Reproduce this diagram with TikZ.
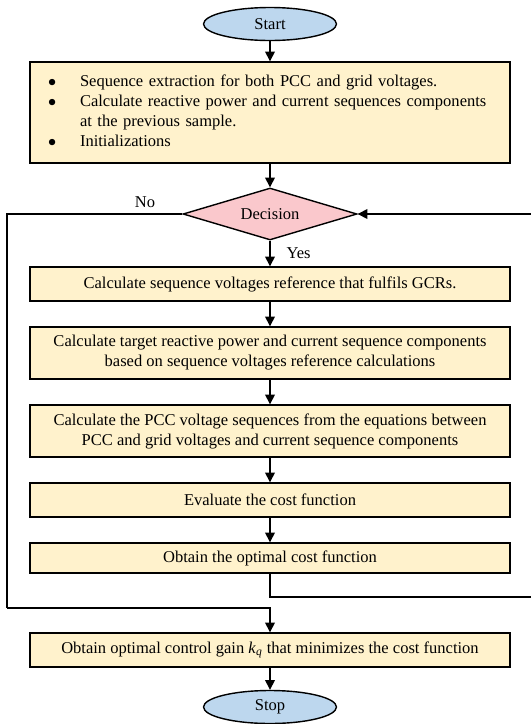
\documentclass[tikz,border=0pt]{standalone}
\usepackage{fontspec}
\setmainfont{Liberation Serif}
\usepackage{tikz}
\usetikzlibrary{arrows.meta, positioning, shapes.geometric}

\definecolor{boxfill}{RGB}{255,242,204}
\definecolor{endfill}{RGB}{189,215,238}
\definecolor{decfill}{RGB}{250,200,204}

\begin{document}
\begin{tikzpicture}[
  x=0.02cm, y=-0.02cm,
  every node/.style={font=\fontsize{9.4}{11.4}\selectfont},
  box/.style={draw, fill=boxfill, line width=0.8pt, align=center, inner sep=2pt, minimum width=9.6cm},
  term/.style={draw, ellipse, fill=endfill, line width=0.8pt, minimum width=2.66cm, minimum height=0.66cm, inner sep=0pt},
  dec/.style={draw, diamond, fill=decfill, line width=0.8pt, aspect=3.35, minimum width=3.48cm, minimum height=1.04cm, inner sep=0pt},
  arrow/.style={-{Triangle[length=5.5pt, width=5.5pt]}, line width=0.8pt},
  line/.style={line width=0.8pt},
  lab/.style={inner sep=1pt}
]
  \useasboundingbox (0,0) rectangle (531,724);

  \node[term] (start) at (270,24) {Start};
  \node[box, minimum height=2.02cm, align=left, inner xsep=0.36cm, text width=8.88cm] (n1) at (270,112.5)
    {\begin{tabular}{@{}p{0.64cm}@{}l@{}}
      $\bullet$ & Sequence extraction for both PCC and grid voltages.\\
      $\bullet$ & Calculate reactive power and current sequences components\\
                & at the previous sample.\\
      $\bullet$ & Initializations
     \end{tabular}};
  \node[dec] (dec) at (270,214) {Decision};
  \node[box, minimum height=0.68cm] (n2) at (270,284) {Calculate sequence voltages reference that fulfils GCRs.};
  \node[box, minimum height=1.04cm] (n3) at (270,353) {Calculate target reactive power and current sequence components\\ based on sequence voltages reference calculations};
  \node[box, minimum height=1.04cm] (n4) at (270,431) {Calculate the PCC voltage sequences from the equations between\\ PCC and grid voltages and current sequence components};
  \node[box, minimum height=0.68cm] (n5) at (270,500) {Evaluate the cost function};
  \node[box, minimum height=0.6cm] (n6) at (270,558) {Obtain the optimal cost function};
  \node[box, minimum height=0.68cm] (n7) at (270,650) {Obtain optimal control gain \textit{k}\textsubscript{\textit{q}} that minimizes the cost function};
  \node[term] (stop) at (270,707) {Stop};

  \coordinate (lpt) at (7,608);
  \coordinate (rpt) at (534,597);

  \draw[arrow] (start) -- (n1);
  \draw[arrow] (n1) -- (dec);
  \draw[arrow] (dec) -- node[lab, right, xshift=8pt] {Yes} (n2);
  \draw[arrow] (n2) -- (n3);
  \draw[arrow] (n3) -- (n4);
  \draw[arrow] (n4) -- (n5);
  \draw[arrow] (n5) -- (n6);
  \draw[arrow] (n7) -- (stop);

  % No branch, left loop
  \draw[line] (dec.west) -| (lpt);
  \draw[arrow] (lpt) -| (n7.north);
  \node[lab] (no) at (145,202) {No};

  % return loop on the right
  \draw[line] (n6.south) |- (rpt);
  \draw[arrow] (rpt) |- (dec.east);
\end{tikzpicture}
\end{document}
